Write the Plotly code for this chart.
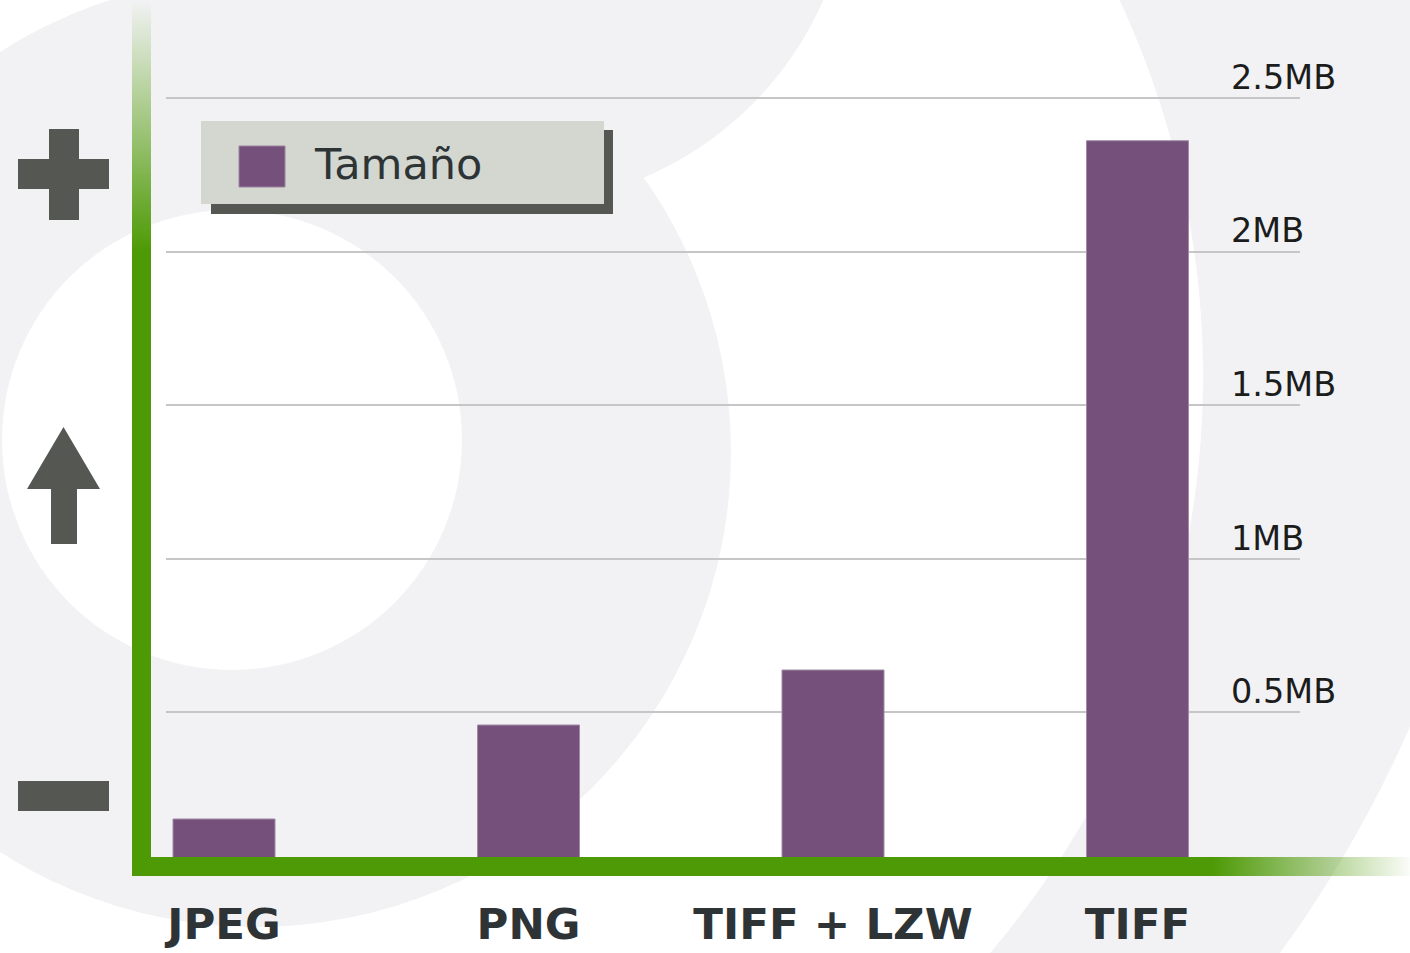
import plotly.graph_objects as go

# ---- data ----
categories = ["JPEG", "PNG", "TIFF + LZW", "TIFF"]
sizes_mb = [0.153, 0.459, 0.638, 2.361]
series_name = "Tamaño"
tick_values = [0.5, 1.0, 1.5, 2.0, 2.5]
tick_labels = ["0.5MB", "1MB", "1.5MB", "2MB", "2.5MB"]

W, H = 1410, 953
GRAY_BG = "#f2f2f4"
GREEN = "78,154,6"
PLUM = "#75507b"
DARK = "#555753"
TEXT = "#2e3436"


def px(x):
    return x / W


def py(y):
    return 1 - y / H


def circle(cx, cy, r, color):
    return dict(type="circle", xref="paper", yref="paper", layer="below",
                x0=px(cx - r), x1=px(cx + r), y0=py(cy + r), y1=py(cy - r),
                fillcolor=color, line=dict(width=0))


def rect(x0, y0, x1, y1, color, layer="above", line=None):
    return dict(type="rect", xref="paper", yref="paper", layer=layer,
                x0=px(x0), x1=px(x1), y0=py(y1), y1=py(y0),
                fillcolor=color, line=line or dict(width=0))


shapes = [
    circle(315, 248, 1195, GRAY_BG),
    circle(315, 376, 888, "#ffffff"),
    circle(256, 452, 475, GRAY_BG),
    circle(510, -137, 342, GRAY_BG),
    circle(232, 440, 230, "#ffffff"),
]

# icons on the left
shapes += [
    rect(18, 159, 109, 189, DARK),
    rect(49, 129, 79, 220, DARK),
    rect(18, 781, 109, 811, DARK),
    dict(type="path", xref="paper", yref="paper", layer="above",
         path=("M {a},{b} L {c},{d} L {e},{d} L {e},{f} L {g},{f} L {g},{d} L {h},{d} Z"
               .format(a=px(63.5), b=py(427), c=px(100), d=py(489), e=px(77),
                       f=py(544), g=px(51), h=px(27))),
         fillcolor=DARK, line=dict(width=0)),
]

# legend box (shadow, box, swatch)
shapes += [
    rect(211, 130, 613, 214, DARK),
    rect(201, 121, 604, 204, "#d3d7cf"),
    rect(239, 146, 285, 187, PLUM, line=dict(width=1, color="#9a84a0")),
]

annotations = [
    dict(text=series_name, xref="paper", yref="paper", x=px(312), y=py(164),
         xanchor="left", yanchor="middle", showarrow=False,
         font=dict(family="DejaVu Sans", size=43, color=TEXT)),
]

fig = go.Figure()

fig.add_trace(go.Bar(
    x=categories, y=sizes_mb, name=series_name,
    marker=dict(color=PLUM, line=dict(width=1, color="#a08ca4")),
    width=0.335, xaxis="x", yaxis="y", showlegend=False,
))

# green axes with gradients, drawn on a full-figure overlay subplot (y measured upward)
fig.add_trace(go.Scatter(
    x=[132, 151, 151, 132], y=[H - 0, H - 0, H - 876, H - 876],
    fill="toself", mode="none", hoverinfo="skip", showlegend=False,
    fillgradient=dict(type="vertical",
                      colorscale=[[0, f"rgba({GREEN},1)"], [1, f"rgba({GREEN},0)"]],
                      start=H - 250, stop=H - 0),
    xaxis="x2", yaxis="y2",
))
fig.add_trace(go.Scatter(
    x=[132, 1410, 1410, 132], y=[H - 857, H - 857, H - 876, H - 876],
    fill="toself", mode="none", hoverinfo="skip", showlegend=False,
    fillgradient=dict(type="horizontal",
                      colorscale=[[0, f"rgba({GREEN},1)"], [1, f"rgba({GREEN},0)"]],
                      start=1213, stop=1415),
    xaxis="x2", yaxis="y2",
))

zero_px, top_px = 866, 67.3
fig.update_layout(
    width=W, height=H,
    margin=dict(l=0, r=0, t=0, b=0),
    paper_bgcolor="#ffffff",
    plot_bgcolor="rgba(0,0,0,0)",
    showlegend=False,
    bargap=0.665,
    shapes=shapes,
    annotations=annotations,
    xaxis=dict(
        domain=[px(166), px(1300)], range=[-0.1905, 3.5337],
        showgrid=False, zeroline=False, showline=False, ticks="",
        tickfont=dict(family="DejaVu Sans", size=43.5, weight="bold", color=TEXT),
        ticklabelstandoff=28, automargin=False, fixedrange=True,
    ),
    yaxis=dict(
        domain=[1 - zero_px / H, 1 - top_px / H], range=[0, 2.6],
        side="right", tickvals=tick_values, ticktext=tick_labels,
        showgrid=True, gridcolor="#c6c6c6", gridwidth=2,
        zeroline=False, showline=False, ticks="",
        tickfont=dict(family="DejaVu Sans", size=33.5, color="#1c1c1c"),
        ticklabelstandoff=-70, ticklabelshift=-21,
        automargin=False, fixedrange=True,
    ),
    xaxis2=dict(domain=[0, 1], range=[0, W], visible=False, anchor="y2", fixedrange=True),
    yaxis2=dict(domain=[0, 1], range=[0, H], visible=False, anchor="x2", fixedrange=True),
)

fig.write_html(
    "out.html",
    config={"displayModeBar": False},
    post_script="document.body.style.margin='0';document.body.style.overflow='hidden';",
)
